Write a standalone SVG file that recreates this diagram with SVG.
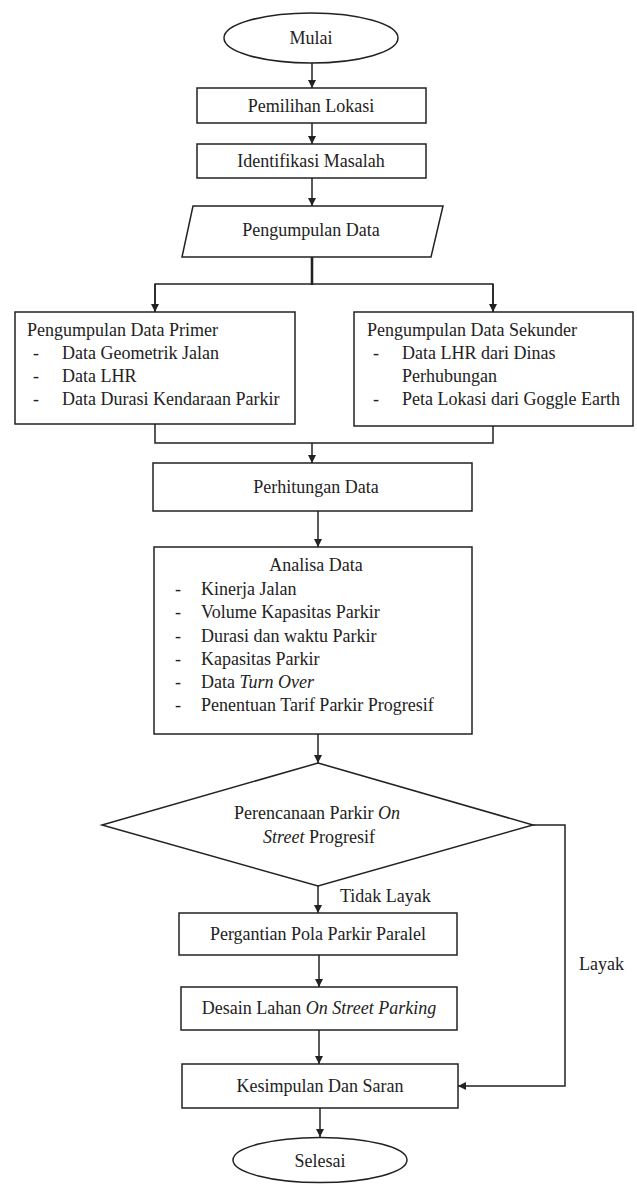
<svg xmlns="http://www.w3.org/2000/svg" width="637" height="1184" viewBox="0 0 637 1184">
<style>
.s{fill:#fff;stroke:#222;stroke-width:1.5}
.t{font-family:"Liberation Serif","Times New Roman",serif;font-size:18px;fill:#222}
.c{text-anchor:middle}
.l{fill:none;stroke:#222;stroke-width:1.5}
</style>
<defs>
<marker id="ah" markerWidth="8" markerHeight="8" refX="8" refY="4" orient="auto" markerUnits="userSpaceOnUse">
<path d="M0,0 L8,4 L0,8 Z" fill="#222"/>
</marker>
</defs>
<rect width="637" height="1184" fill="#fff"/>
<g id="connectors">
<line class="l" x1="312" y1="63" x2="312" y2="88" marker-end="url(#ah)"/>
<line class="l" x1="312" y1="123" x2="312" y2="144" marker-end="url(#ah)"/>
<line class="l" x1="312" y1="178" x2="312" y2="206" marker-end="url(#ah)"/>
<line x1="312" y1="257" x2="312" y2="285" stroke="#222" stroke-width="2.6"/>
<polyline class="l" points="155,312 155,284 493,284 493,312"/>
<line class="l" x1="155" y1="284" x2="155" y2="312" marker-end="url(#ah)"/>
<line class="l" x1="493" y1="284" x2="493" y2="312" marker-end="url(#ah)"/>
<polyline class="l" points="155,424 155,443 493,443 493,426"/>
<line class="l" x1="312" y1="443" x2="312" y2="463" marker-end="url(#ah)"/>
<line class="l" x1="318" y1="511" x2="318" y2="547" marker-end="url(#ah)"/>
<line class="l" x1="318" y1="734" x2="318" y2="763" marker-end="url(#ah)"/>
<line class="l" x1="318" y1="886" x2="318" y2="913" marker-end="url(#ah)"/>
<polyline class="l" points="533,825 565,825 565,1086 458,1086" marker-end="url(#ah)"/>
<line class="l" x1="319" y1="955" x2="319" y2="987" marker-end="url(#ah)"/>
<line class="l" x1="319" y1="1030" x2="319" y2="1064" marker-end="url(#ah)"/>
<line class="l" x1="320" y1="1108" x2="320" y2="1137" marker-end="url(#ah)"/>
<text class="t" x="340" y="902">Tidak Layak</text>
<text class="t" x="579" y="970">Layak</text>
</g>
<g id="mulai">
<ellipse class="s" cx="311" cy="38" rx="87" ry="25"/>
<text class="t c" x="311" y="44">Mulai</text>
</g>
<g id="pemilihan">
<rect class="s" x="197" y="88" width="229" height="35"/>
<text class="t c" x="311" y="112">Pemilihan Lokasi</text>
</g>
<g id="identifikasi">
<rect class="s" x="197" y="144" width="229" height="34"/>
<text class="t c" x="311" y="167">Identifikasi Masalah</text>
</g>
<g id="pengumpulan">
<polygon class="s" points="193,206 443,206 431,257 182,257"/>
<text class="t c" x="311" y="236">Pengumpulan Data</text>
</g>
<g id="primer">
<rect class="s" x="15" y="312" width="280" height="112"/>
<text class="t" x="27" y="336">Pengumpulan Data Primer</text>
<text class="t" x="33" y="359">-</text><text class="t" x="62" y="359">Data Geometrik Jalan</text>
<text class="t" x="33" y="382">-</text><text class="t" x="62" y="382">Data LHR</text>
<text class="t" x="33" y="405">-</text><text class="t" x="62" y="405">Data Durasi Kendaraan Parkir</text>
</g>
<g id="sekunder">
<rect class="s" x="354" y="312" width="279" height="114"/>
<text class="t" x="367" y="336">Pengumpulan Data Sekunder</text>
<text class="t" x="373" y="359">-</text><text class="t" x="402" y="359">Data LHR dari Dinas</text>
<text class="t" x="402" y="382">Perhubungan</text>
<text class="t" x="373" y="405">-</text><text class="t" x="402" y="405">Peta Lokasi dari Goggle Earth</text>
</g>
<g id="perhitungan">
<rect class="s" x="153" y="463" width="319" height="48"/>
<text class="t c" x="316" y="493">Perhitungan Data</text>
</g>
<g id="analisa">
<rect class="s" x="154" y="547" width="318" height="187"/>
<text class="t c" x="316" y="571">Analisa Data</text>
<text class="t" x="175" y="595">-</text><text class="t" x="201" y="595">Kinerja Jalan</text>
<text class="t" x="175" y="618">-</text><text class="t" x="201" y="618">Volume Kapasitas Parkir</text>
<text class="t" x="175" y="642">-</text><text class="t" x="201" y="642">Durasi dan waktu Parkir</text>
<text class="t" x="175" y="665">-</text><text class="t" x="201" y="665">Kapasitas Parkir</text>
<text class="t" x="175" y="688">-</text><text class="t" x="201" y="688">Data <tspan font-style="italic">Turn Over</tspan></text>
<text class="t" x="175" y="711">-</text><text class="t" x="201" y="711">Penentuan Tarif Parkir Progresif</text>
</g>
<g id="perencanaan">
<polygon class="s" points="318,763 533,825 318,886 102,825"/>
<text class="t c" x="317" y="819">Perencanaan Parkir <tspan font-style="italic">On</tspan></text>
<text class="t c" x="319" y="843"><tspan font-style="italic">Street</tspan> Progresif</text>
</g>
<g id="pergantian">
<rect class="s" x="179" y="913" width="278" height="42"/>
<text class="t c" x="318" y="940">Pergantian Pola Parkir Paralel</text>
</g>
<g id="desain">
<rect class="s" x="181" y="987" width="276" height="43"/>
<text class="t c" x="319" y="1014">Desain Lahan <tspan font-style="italic">On Street Parking</tspan></text>
</g>
<g id="kesimpulan">
<rect class="s" x="182" y="1064" width="276" height="44"/>
<text class="t c" x="320" y="1092">Kesimpulan Dan Saran</text>
</g>
<g id="selesai">
<ellipse class="s" cx="320" cy="1160" rx="87" ry="22.5"/>
<text class="t c" x="320" y="1167">Selesai</text>
</g>
</svg>
